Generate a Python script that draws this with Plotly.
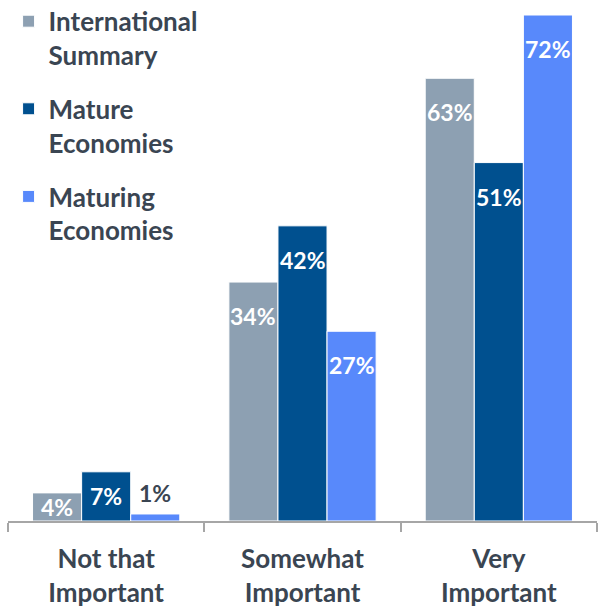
import plotly.graph_objects as go

# Survey responses by importance level
categories = ["Not that<br>Important", "Somewhat<br>Important", "Very<br>Important"]
series_names = ["International<br>Summary", "Mature<br>Economies", "Maturing<br>Economies"]
international = [4, 34, 63]
mature = [7, 42, 51]
maturing = [1, 27, 72]

colors = ["#8DA0B2", "#00508F", "#5889FB"]
text_dark = "#3A4552"
font_family = "Lato"

bargap = 0.25
values = [international, mature, maturing]

fig = go.Figure()
for name, vals, col, grp in zip(series_names, values, colors, ["a", "b", "c"]):
    fig.add_trace(go.Bar(
        x=categories, y=vals, name=name, legendgroup=grp,
        marker=dict(color=col, line=dict(color="white", width=1)),
    ))

# value labels: near the top inside tall bars, centred in short bars,
# just above bars too short to hold text
bar_w = (1 - bargap) / 3
for j, vals in enumerate(values):
    for i, v in enumerate(vals):
        x = i + (j - 1) * bar_w
        if v >= 9.6:
            y, shift, col = v, -34, "white"
        elif v >= 3.4:
            y, shift, col = v / 2, 0, "white"
        else:
            y, shift, col = v, 21, text_dark
        fig.add_annotation(
            x=x, y=y, yshift=shift, text=f"{v}%", showarrow=False,
            xanchor="center", yanchor="middle",
            font=dict(family=font_family, size=23, color=col, weight="bold"),
        )

fig.update_layout(
    width=598, height=609,
    margin=dict(l=8, r=1, t=15, b=88, autoexpand=False),
    paper_bgcolor="white", plot_bgcolor="white",
    barmode="group", bargap=bargap, bargroupgap=0,
    showlegend=True,
    legend=dict(
        x=0.001, y=1.034, xanchor="left", yanchor="top",
        valign="top", traceorder="grouped", tracegroupgap=17,
        font=dict(family=font_family, size=26, color=text_dark, weight="bold"),
        bgcolor="rgba(0,0,0,0)",
    ),
    xaxis=dict(
        showline=True, linecolor="#A6A6A6", linewidth=1.5,
        ticks="outside", tickson="boundaries", ticklen=9, tickcolor="#A6A6A6",
        tickwidth=1.5, ticklabelstandoff=14, automargin=False,
        tickfont=dict(family=font_family, size=26, color=text_dark, weight="bold"),
        showgrid=False,
    ),
    yaxis=dict(range=[0, 72], visible=False, showgrid=False, automargin=False),
)

fig.write_html("out.html")
